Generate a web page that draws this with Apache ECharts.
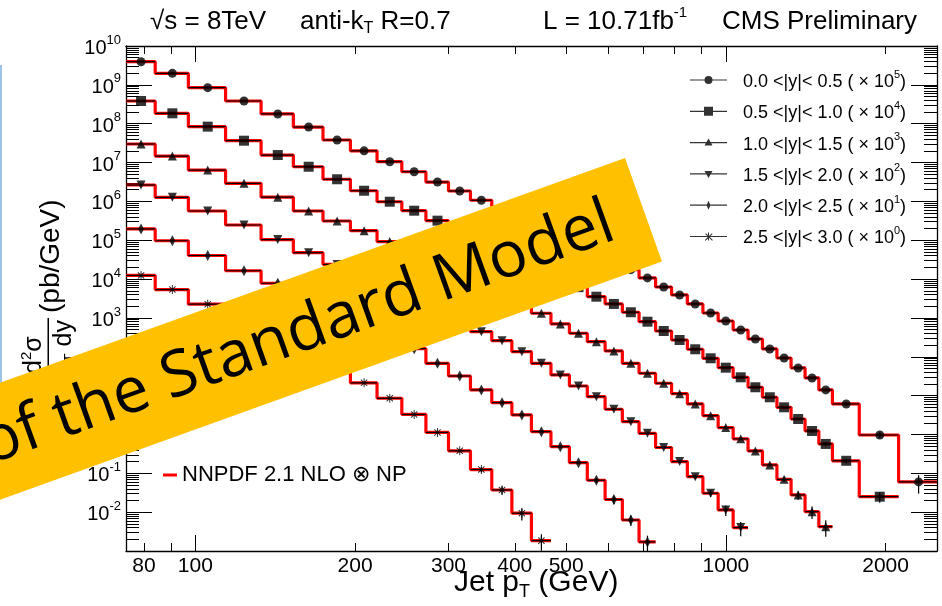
<!DOCTYPE html>
<html>
<head>
<meta charset="utf-8">
<script src="https://cdn.jsdelivr.net/npm/echarts@6.0.0/dist/echarts.min.js"></script>
<style>
html,body{margin:0;padding:0;background:#ffffff;}
#chart{width:942px;height:606px;}
</style>
</head>
<body>
<div id="chart"></div>
<script>
// ---------------- data ----------------
const binEdges = [74,84,97,114,133,153,174,196,220,245,272,300,330,362,395,430,468,507,548,592,638,686,737,790,846,905,967,1032,1101,1172,1248,1327,1410,1497,1588,1784,2116,2500];

const rapidityLabels = ['0.0 <|y|< 0.5', '0.5 <|y|< 1.0', '1.0 <|y|< 1.5', '1.5 <|y|< 2.0', '2.0 <|y|< 2.5', '2.5 <|y|< 3.0'];
const scaleExponents = [5, 4, 3, 2, 1, 0];
const theoryName = 'NNPDF 2.1 NLO \u2297 NP';

// cross sections (pb/GeV, already multiplied by the scale factor), one value per pT bin
const xsY00 = [3.94e9,1.98e9,8.45e8,3.84e8,1.78e8,8.2e7,3.8e7,2.0e7,1.05e7,5.8e6,
               3.15e6,1.85e6,1.07e6,6.24e5,3.69e5,2.18e5,1.30e5,7.85e4,4.75e4,2.87e4,
               1.75e4,1.07e4,6.26e3,3.9e3,2.29e3,1.34e3,834,489,287,159,
               93,51.5,28.5,14,6.1,0.97,0.06];
const xsY05 = [3.84e8,1.85e8,8.4e7,3.65e7,1.56e7,7.8e6,3.71e6,1.88e6,9.8e5,5.76e5,
               3.19e5,1.79e5,9.98e4,5.62e4,3.21e4,1.84e4,1.06e4,6.2e3,3.52e3,2.29e3,
               1.40e3,800,461,270,156,91.4,52.4,29.6,16.4,9.07,
               5.0,2.5,1.23,0.57,0.21,0.025];
const xsY10 = [3.0e7,1.47e7,6.4e6,2.92e6,1.28e6,5.66e5,3.13e5,1.76e5,9.25e4,4.9e4,
               2.61e4,1.42e4,7.8e3,4.31e3,2.42e3,1.32e3,699,403,245,141,
               68,37.7,20.8,11.2,6.1,3.05,1.5,0.77,0.376,0.164,
               0.070,0.0277,0.0103,0.00424];
const xsY15 = [2.64e6,1.27e6,5.66e5,2.47e5,1.04e5,4.77e4,2.39e4,1.21e4,6.29e3,3.26e3,
               1.68e3,881,443,260,135,68,34,17.7,9.4,4.46,
               2.13,1.07,0.462,0.2,0.082,0.0307,0.0114,0.004];
const xsY20 = [1.95e5,9.7e4,4.05e4,1.64e4,7.8e3,3.49e3,1.6e3,740,348,162,
               68,32,14,6.6,3.18,1.18,0.485,0.188,0.0662,0.0212,
               0.00628,0.00171];
const xsY25 = [1.24e4,5.37e3,2.26e3,830,320,127,51,21.3,8.55,3.27,
               1.13,0.38,0.125,0.0372,0.0094,0.00185];

// relative uncertainties of the last four bins of each rapidity bin
const tailErrY00 = [0.06,0.12,0.18,0.5];
const tailErrY05 = [0.08,0.12,0.15,0.3];
const tailErrY10 = [0.15,0.25,0.35,0.45];
const tailErrY15 = [0.12,0.2,0.3,0.4];
const tailErrY20 = [0.15,0.25,0.3,0.45];
const tailErrY25 = [0.15,0.25,0.35,0.45];

// axis ticks / labels
const xLabelValues = [80,100,200,300,400,500,1000,2000];
const xMajorTicks = [100,1000];
const xMinorTicks = [80,90,200,300,400,500,600,700,800,900,2000];
const yLabelExponents = [-2,-1,0,1,2,3,4,5,6,7,8,9,10];
const yMinorMultipliers = [2,3,4,5,6,7,8,9];
const yMinorDecades = [-3,-2,-1,0,1,2,3,4,5,6,7,8,9];

// ---------------- helpers ----------------
const FAM = '"Liberation Sans", Arial, Helvetica, sans-serif';
const fnt = s => s + 'px ' + FAM;
const mctx = document.createElement('canvas').getContext('2d');
function tw(str, font) { mctx.font = font; return mctx.measureText(str).width; }

function textRun(parts, x, y, extra) {
  const els = []; let cx = x;
  parts.forEach(p => {
    const font = fnt(p.size);
    els.push(Object.assign({
      type: 'text', x: cx, y: y + (p.dy || 0),
      style: { text: p.t, font: font, fill: '#000', align: 'left', verticalAlign: 'middle',
               textAlign: 'left', textVerticalAlign: 'middle' }
    }, extra || {}));
    cx += tw(p.t, font);
  });
  return els;
}
function runWidth(parts) { return parts.reduce((a, p) => a + tw(p.t, fnt(p.size)), 0); }

const yMajorValues = yLabelExponents.map(e => Math.pow(10, e));
const yMinorValues = [];
yMinorDecades.forEach(d => yMinorMultipliers.forEach(m => yMinorValues.push(m * Math.pow(10, d))));

function axisX(pos, ticks, len, withLabels, withLine) {
  return {
    type: 'log', logBase: 10, min: 74, max: 2500, position: pos,
    axisLine: { show: withLine, onZero: false, lineStyle: { color: '#000', width: 1.3 } },
    axisTick: { show: true, inside: true, length: len, customValues: ticks, lineStyle: { color: '#000', width: 1 } },
    axisLabel: withLabels ? { show: true, customValues: xLabelValues, fontFamily: FAM, fontSize: 21, color: '#000', margin: 5,
                              formatter: v => String(Math.round(v)) } : { show: false },
    splitLine: { show: false }, minorTick: { show: false }, minorSplitLine: { show: false },
    axisPointer: { show: false }
  };
}
function axisY(pos, ticks, len, withLabels, withLine) {
  return {
    type: 'log', logBase: 10, min: 1e-3, max: 1e10, position: pos,
    axisLine: { show: withLine, onZero: false, lineStyle: { color: '#000', width: 1.3 } },
    axisTick: { show: true, inside: true, length: len, customValues: ticks, lineStyle: { color: '#000', width: 1 } },
    axisLabel: withLabels ? {
      show: true, customValues: yMajorValues, margin: 5, color: '#000',
      formatter: v => '{b|10}{s|' + Math.round(Math.log10(v)) + '}',
      rich: {
        b: { fontFamily: FAM, fontSize: 20, lineHeight: 25, verticalAlign: 'bottom', color: '#000' },
        s: { fontFamily: FAM, fontSize: 13, lineHeight: 13, verticalAlign: 'top', color: '#000' }
      }
    } : { show: false },
    splitLine: { show: false }, minorTick: { show: false }, minorSplitLine: { show: false },
    axisPointer: { show: false }
  };
}

function renderErr(params, api) {
  const x0 = api.value(0), x1 = api.value(1), v = api.value(2), e = api.value(3);
  const a = api.coord([x0, v]), b = api.coord([x1, v]);
  const ch = [{ type: 'line', shape: { x1: a[0], y1: a[1], x2: b[0], y2: b[1] }, style: { stroke: '#000', lineWidth: 1.2 } }];
  if (e > 0) {
    const xc = (x0 + x1) / 2;
    const t = api.coord([xc, v * (1 + e)]), d = api.coord([xc, v * (1 - e)]);
    ch.push({ type: 'line', shape: { x1: t[0], y1: t[1], x2: d[0], y2: d[1] }, style: { stroke: '#000', lineWidth: 1.2 } });
  }
  return { type: 'group', children: ch };
}

// ---------------- series ----------------
const yields = [xsY00, xsY05, xsY10, xsY15, xsY20, xsY25];
const tails = [tailErrY00, tailErrY05, tailErrY10, tailErrY15, tailErrY20, tailErrY25];
const asteriskPath = 'path://M-5,-0.55h10v1.1h-10z M-0.55,-5h1.1v10h-1.1z M-3.9,-3.1l0.8,-0.8l7,7l-0.8,0.8z M3.1,-3.9l0.8,0.8l-7,7l-0.8,-0.8z';
const markerSymbols = ['circle', 'rect', 'triangle', 'path://M-4,-3.5L4,-3.5L0,3.5z', 'diamond', asteriskPath];
const markerSizes = [9, 10, 9, 9, [6, 11], 9];

const anchors = 'M0,0h0.01v0.01h-0.01z M36.99,10.99h0.01v0.01h-0.01z ';
const lineBar = 'M0,4.9h37v1.2h-37z ';
const legendIcons = [
  'path://' + anchors + lineBar + 'M14.5,5.5a4,4 0 1,1 8,0a4,4 0 1,1 -8,0z',
  'path://' + anchors + lineBar + 'M14,1h9v9h-9z',
  'path://' + anchors + lineBar + 'M18.5,1.5L22.5,8.5L14.5,8.5z',
  'path://' + anchors + lineBar + 'M14.5,2.5L22.5,2.5L18.5,9.5z',
  'path://' + anchors + lineBar + 'M18.5,1L20.5,5.5L18.5,10L16.5,5.5z',
  'path://' + anchors + lineBar + 'M18,1.5h1v8h-1z M15.2,2.9l0.7,-0.7l6.9,6.9l-0.7,0.7z M21.8,2.2l0.7,0.7l-6.9,6.9l-0.7,-0.7z'
];

const series = [];
yields.forEach(vals => {
  const n = vals.length, pts = [];
  for (let k = 0; k <= n; k++) pts.push([binEdges[k], vals[Math.min(k, n - 1)]]);
  series.push({ type: 'line', name: theoryName, data: pts, step: 'end', symbol: 'none', showSymbol: false,
    lineStyle: { color: '#ff0000', width: 3.2 }, itemStyle: { color: '#ff0000' }, z: 2, silent: true, clip: true });
});
yields.forEach((vals, i) => {
  const n = vals.length, tail = tails[i];
  const errData = vals.map((v, k) => {
    const ti = k - (n - tail.length);
    return [binEdges[k], binEdges[k + 1], v, ti >= 0 ? tail[ti] : 0];
  });
  series.push({ type: 'custom', name: rapidityLabels[i] + ' err', data: errData, encode: { x: [0, 1], y: 2 },
    renderItem: renderErr, z: 3, silent: true, clip: true });
  series.push({ type: 'scatter', name: rapidityLabels[i],
    data: vals.map((v, k) => [(binEdges[k] + binEdges[k + 1]) / 2, v]),
    symbol: markerSymbols[i], symbolSize: markerSizes[i], itemStyle: { color: '#000' }, z: 4, silent: true });
});

// ---------------- decorations ----------------
const graphics = [];
// title row
graphics.push(...textRun([{ t: '\u221As = 8TeV', size: 26 }], 150, 22));
graphics.push(...textRun([{ t: 'anti-k', size: 26 }, { t: 'T', size: 16, dy: 7 }, { t: ' R=0.7', size: 26 }], 300, 22));
graphics.push(...textRun([{ t: 'L = 10.71fb', size: 26 }, { t: '-1', size: 15, dy: -9 }], 543, 22));
const cmsParts = [{ t: 'CMS Preliminary', size: 26 }];
graphics.push(...textRun(cmsParts, 917 - runWidth(cmsParts), 22));
// x title
graphics.push(...textRun([{ t: 'Jet p', size: 30 }, { t: 'T', size: 18, dy: 9 }, { t: ' (GeV)', size: 30 }], 454, 583));
// y title (rotated)
const denParts = [{ t: 'dp', size: 25 }, { t: 'T', size: 15, dy: 6 }, { t: ' dy', size: 25 }];
const numParts = [{ t: 'd', size: 25 }, { t: '2', size: 15, dy: -7 }, { t: '\u03C3', size: 25 }];
const denW = runWidth(denParts), numW = runWidth(numParts);
const yTitleChildren = [].concat(
  textRun([{ t: '(pb/GeV)', size: 28 }], 67, 1),
  textRun(denParts, 60 - denW, 14),
  textRun(numParts, 60 - denW / 2 - numW / 2, -16),
  [{ type: 'rect', shape: { x: 60 - denW - 2, y: -2.5, width: denW + 4, height: 1.5 }, style: { fill: '#000' } }]
);
graphics.push({ type: 'group', x: 50, y: 380, rotation: Math.PI / 2, children: yTitleChildren });
// slide decorations
graphics.push({ type: 'rect', shape: { x: 0, y: 65, width: 2, height: 350 }, style: { fill: '#9dc3e6' }, z: 50 });
graphics.push({ type: 'polygon', shape: { points: [[-20, 390], [625, 158], [662, 261.5], [-20, 507]] }, style: { fill: '#ffc000' }, z: 100 });
graphics.push({ type: 'text', x: 612, y: 221, rotation: 19.8 * Math.PI / 180, z: 101,
  style: { text: 'of the Standard Model', font: '64px "Open Sans", "Noto Sans", sans-serif', fill: '#000',
           align: 'right', verticalAlign: 'middle', textAlign: 'right', textVerticalAlign: 'middle' } });

// ---------------- option ----------------
const option = {
  animation: false,
  backgroundColor: '#ffffff',
  grid: { left: 126, right: 5, top: 46, bottom: 55, containLabel: false },
  xAxis: [
    axisX('bottom', xMajorTicks, 16, true, true),
    axisX('bottom', xMinorTicks, 8, false, false),
    axisX('top', xMajorTicks, 16, false, true),
    axisX('top', xMinorTicks, 8, false, false)
  ],
  yAxis: [
    axisY('left', yMajorValues, 26, true, true),
    axisY('left', yMinorValues, 13, false, false),
    axisY('right', yMajorValues, 26, false, true),
    axisY('right', yMinorValues, 13, false, false)
  ],
  legend: [{
    orient: 'vertical', left: 690, top: 69, padding: 0, itemWidth: 37, itemHeight: 11, itemGap: 9.3,
    selectedMode: false, symbolRotate: 0,
    data: rapidityLabels.map((n, i) => ({ name: n, icon: legendIcons[i] })),
    formatter: name => {
      const i = rapidityLabels.indexOf(name);
      return '{t|' + name + ' ( \u00D7 10}{s|' + scaleExponents[i] + '}{t|)}';
    },
    textStyle: {
      color: '#000', fontFamily: FAM, fontSize: 18, padding: [0, 0, 0, 11],
      rich: {
        t: { fontFamily: FAM, fontSize: 18, lineHeight: 22, verticalAlign: 'bottom', color: '#000' },
        s: { fontFamily: FAM, fontSize: 11, lineHeight: 11, verticalAlign: 'top', color: '#000' }
      }
    }
  }, {
    orient: 'vertical', left: 163, top: 464, padding: 0, itemWidth: 14, itemHeight: 3, selectedMode: false,
    data: [{ name: theoryName, icon: 'rect' }],
    textStyle: { color: '#000', fontFamily: FAM, fontSize: 22 }
  }],
  series: series,
  graphic: { elements: graphics }
};

const chart = echarts.init(document.getElementById('chart'), null, { renderer: 'canvas' });
chart.setOption(option);
</script>
</body>
</html>
